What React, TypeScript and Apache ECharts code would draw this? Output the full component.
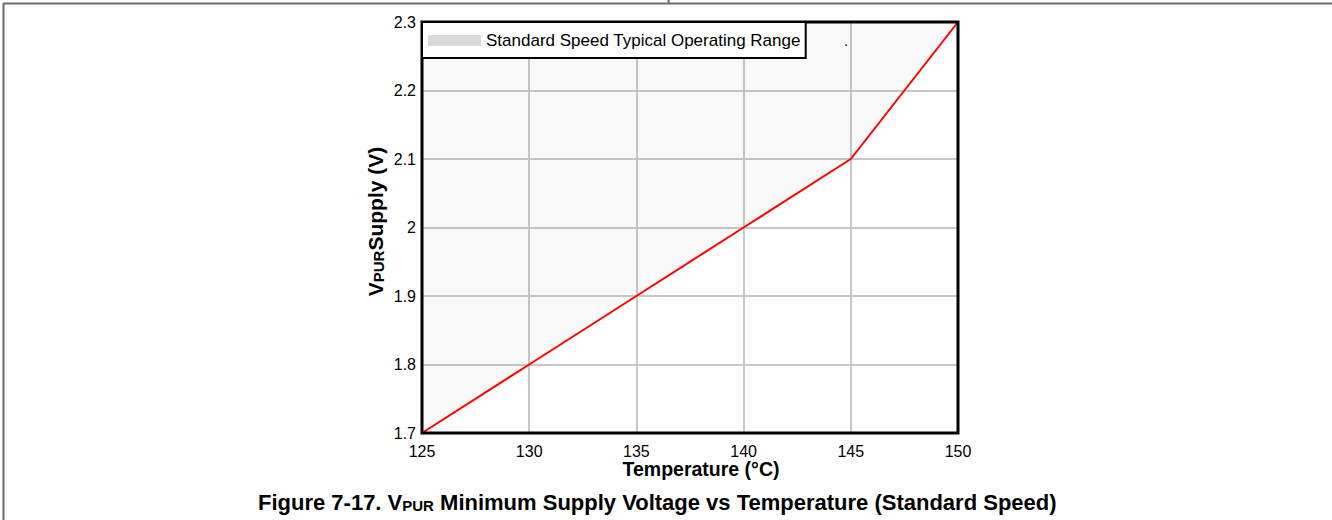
import React, { useEffect, useRef } from "react";
import * as echarts from "echarts";

// Minimum V_PUR supply voltage against temperature (standard speed)
const temperatures: number[] = [125, 130, 135, 140, 145, 150];
const minSupply: number[] = [1.7, 1.8, 1.9, 2.0, 2.1, 2.3];
const rangeName = "Standard Speed Typical Operating Range";

const FONT = "'Liberation Sans', Arial, Helvetica, sans-serif";

// Plot box in pixels
const PLOT = { left: 422, top: 22, right: 958, bottom: 433 };

export default function App() {
  const ref = useRef<HTMLDivElement>(null);

  useEffect(() => {
    document.body.style.margin = "0";
    if (!ref.current) return;
    const chart = echarts.init(ref.current, undefined, { renderer: "svg" });
    const points = temperatures.map((t, i) => [t, minSupply[i]]);

    chart.setOption({
      animation: false,
      backgroundColor: "#ffffff",
      textStyle: { fontFamily: FONT },
      title: {
        text: "{b|Figure 7-17. V}{s|PUR}{b| Minimum Supply Voltage vs Temperature (Standard Speed)}",
        left: 258,
        top: 487,
        padding: 0,
        textStyle: {
          rich: {
            b: { fontSize: 22, fontWeight: "bold", color: "#000", lineHeight: 26, verticalAlign: "bottom", fontFamily: FONT },
            s: { fontSize: 15, fontWeight: "bold", color: "#000", lineHeight: 16, verticalAlign: "bottom", fontFamily: FONT },
          },
        },
      },
      legend: {
        left: PLOT.left,
        top: PLOT.top,
        orient: "horizontal",
        backgroundColor: "#ffffff",
        borderColor: "#000000",
        borderWidth: 2,
        borderRadius: 0,
        padding: [10, 5, 9, 6],
        itemWidth: 53,
        itemHeight: 11,
        selectedMode: false,
        z: 8,
        textStyle: { fontSize: 17, color: "#000", fontFamily: FONT },
        data: [{ name: rangeName, icon: "rect", itemStyle: { color: "#d9d9d9", borderWidth: 0 } }],
      },
      grid: {
        left: PLOT.left,
        right: 1332 - PLOT.right,
        top: PLOT.top,
        bottom: 520 - PLOT.bottom,
        show: false,
      },
      xAxis: {
        type: "value",
        min: 125,
        max: 150,
        interval: 5,
        name: "Temperature (°C)",
        nameLocation: "middle",
        nameGap: 26,
        nameMoveOverlap: false,
        nameTextStyle: {
          fontSize: 19.5,
          fontWeight: "bold",
          color: "#000",
          fontFamily: FONT,
          padding: [0, 0, 0, 22],
        },
        axisLine: { show: false },
        axisTick: { show: false },
        axisLabel: { fontSize: 16, color: "#000", margin: 10, fontFamily: FONT },
        splitLine: { show: true, lineStyle: { color: "#c8c8c8", width: 2 } },
      },
      yAxis: {
        type: "value",
        min: 1.7,
        max: 2.3,
        interval: 0.1,
        name: "{b|V}{s|PUR}{b|Supply (V)}",
        nameLocation: "middle",
        nameGap: 36,
        nameRotate: 90,
        nameTextStyle: {
          padding: [0, 0, 0, 12],
          rich: {
            b: { fontSize: 21, fontWeight: "bold", color: "#000", lineHeight: 24, verticalAlign: "bottom", fontFamily: FONT },
            s: { fontSize: 15, fontWeight: "bold", color: "#000", lineHeight: 16, verticalAlign: "bottom", fontFamily: FONT },
          },
        },
        axisLine: { show: false },
        axisTick: { show: false },
        axisLabel: {
          fontSize: 16,
          color: "#000",
          margin: 6,
          fontFamily: FONT,
          formatter: (v: number) => String(parseFloat(v.toFixed(1))),
        },
        splitLine: { show: true, lineStyle: { color: "#c8c8c8", width: 2 } },
      },
      series: [
        {
          name: rangeName,
          type: "line",
          data: points,
          symbol: "none",
          silent: true,
          z: 1,
          lineStyle: { width: 0, color: "#f9f9f9" },
          itemStyle: { color: "#d9d9d9" },
          areaStyle: { color: "rgba(0,0,0,0.025)", opacity: 1, origin: "end" },
        },
        {
          name: "Minimum Supply",
          type: "line",
          data: points,
          symbol: "none",
          z: 3,
          lineStyle: { width: 2, color: "#ff0000" },
          itemStyle: { color: "#ff0000" },
        },
      ],
      graphic: [
        // page frame
        { type: "line", shape: { x1: 3, y1: 3.5, x2: 1332, y2: 3.5 }, style: { stroke: "#6b6b6b", lineWidth: 2 }, z: 10 },
        { type: "line", shape: { x1: 3.5, y1: 3, x2: 3.5, y2: 520 }, style: { stroke: "#6b6b6b", lineWidth: 2 }, z: 10 },
        { type: "line", shape: { x1: 668.5, y1: 0, x2: 668.5, y2: 4 }, style: { stroke: "#6b6b6b", lineWidth: 2 }, z: 10 },
        // plot border
        {
          type: "rect",
          z: 5,
          shape: { x: PLOT.left, y: PLOT.top, width: PLOT.right - PLOT.left, height: PLOT.bottom - PLOT.top },
          style: { fill: "none", stroke: "#000000", lineWidth: 3 },
        },
        {
          type: "text",
          x: 846,
          y: 40,
          z: 10,
          style: { text: ".", fontSize: 15, fill: "#000", fontFamily: FONT, textAlign: "center", textVerticalAlign: "middle" },
        },
      ],
    });

    return () => chart.dispose();
  }, []);

  return <div ref={ref} style={{ width: 1332, height: 520 }} />;
}
